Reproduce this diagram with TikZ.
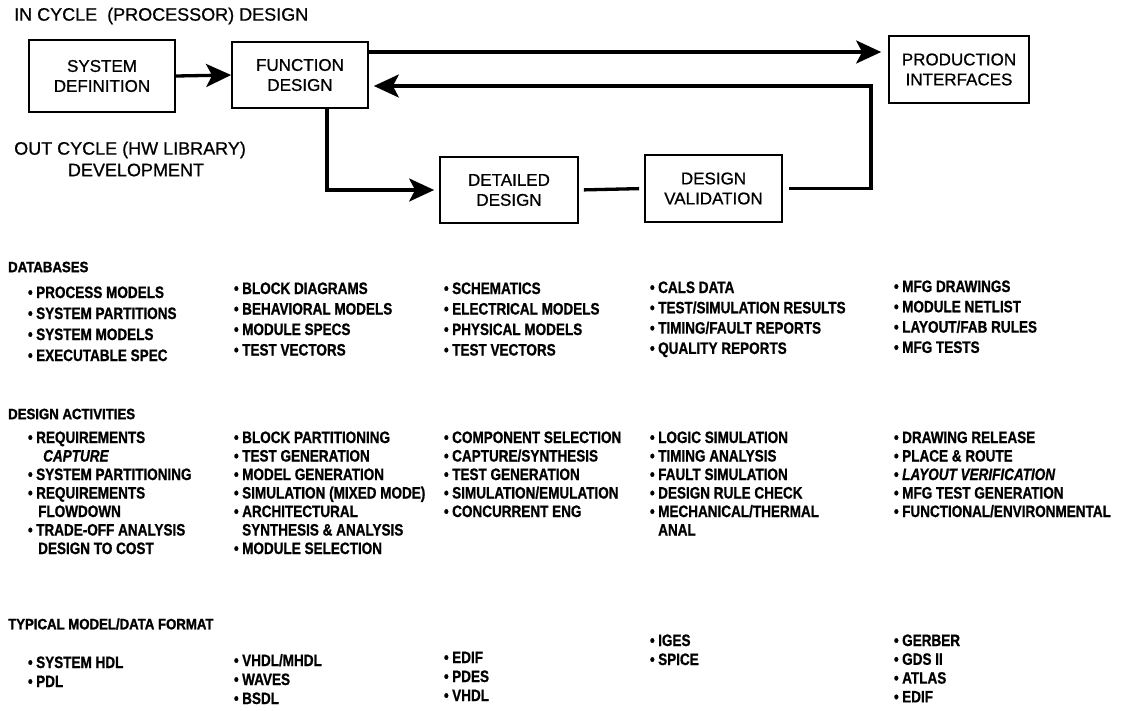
\documentclass[tikz,border=0pt]{standalone}
\usepackage{fontspec}
\setmainfont[FakeBold=0.7]{Liberation Sans}
\newfontfamily\condfont[FakeStretch=0.82,FakeBold=0.9]{Liberation Sans}
\newfontfamily\headfont[FakeStretch=0.88,FakeBold=1.4]{Liberation Sans}
\usetikzlibrary{arrows.meta}
\newcommand\bu{\llap{\textbullet\hspace{3.5pt}}}
\newcommand\itemcol[5]{%
  \foreach \t [count=\i] in {#5}
    \node[itm] (#1-\i) at (#2,{#3+(\i-1)*#4}) {\t};}
\tikzset{
  blk/.style={draw, line width=1.7pt, align=center, inner sep=0pt,
    font=\fontsize{17}{20}\selectfont},
  lbl/.style={inner sep=0pt, font=\fontsize{18}{21}\selectfont},
  hdr/.style={anchor=west, inner sep=0pt, font=\headfont\bfseries\fontsize{15}{17}\selectfont},
  itm/.style={anchor=base west, inner sep=0pt, font=\condfont\bfseries\fontsize{16.5}{19}\selectfont},
  flow/.style={line width=3.3pt, -{Stealth[length=25pt,width=23pt,inset=6pt]}},
  link/.style={line width=3.3pt}
}
\begin{document}
\begin{tikzpicture}[x=1pt,y=-1pt]
\useasboundingbox[fill=white] (0,0) rectangle (1124,710);

% top section
\node[lbl, anchor=west] (title) at (14,16) {IN CYCLE\ \ (PROCESSOR) DESIGN};
\node[blk, minimum width=146pt, minimum height=72pt] (sysdef) at (102,76) {SYSTEM\\DEFINITION};
\node[blk, minimum width=136pt, minimum height=66pt] (func) at (300,75) {FUNCTION\\DESIGN};
\node[blk, minimum width=140pt, minimum height=67pt] (prod) at (959,69.5) {PRODUCTION\\INTERFACES};
\node[lbl, anchor=west] (out) at (14,150) {OUT CYCLE (HW LIBRARY)};
\node[lbl] (dev) at (136,170) {DEVELOPMENT};
\node[blk, minimum width=138pt, minimum height=66pt] (det) at (509,190) {DETAILED\\DESIGN};
\node[blk, minimum width=137pt, minimum height=67pt] (val) at (713.5,188.5) {DESIGN\\VALIDATION};

\coordinate (d1) at (327,190);
\coordinate (r1) at (871,188.5);
\coordinate (r2) at (871,86);

\draw[flow] (sysdef.east) -- (func.west);
\draw[flow, shorten >=7pt] ([yshift=23pt]func.east) -- ([yshift=17.5pt]prod.west);
\draw[flow, shorten >=5pt] ([xshift=27pt]func.south) -- (d1) -- (det.west);
\draw[link, shorten <=5pt, shorten >=5pt] (det.east) -- (val.west);
\draw[flow, shorten <=6pt, shorten >=5pt] (val.east) -- (r1) -- (r2) -- ([yshift=-11pt]func.east);

% databases
\node[hdr] (dbh) at (8,267) {DATABASES};
\itemcol{dba}{36}{298}{21}{{\bu PROCESS MODELS},{\bu SYSTEM PARTITIONS},{\bu SYSTEM MODELS},{\bu EXECUTABLE SPEC}}
\itemcol{dbb}{242}{294}{20.5}{{\bu BLOCK DIAGRAMS},{\bu BEHAVIORAL MODELS},{\bu MODULE SPECS},{\bu TEST VECTORS}}
\itemcol{dbc}{452}{294}{20.5}{{\bu SCHEMATICS},{\bu ELECTRICAL MODELS},{\bu PHYSICAL MODELS},{\bu TEST VECTORS}}
\itemcol{dbd}{658}{293}{20.3}{{\bu CALS DATA},{\bu TEST/SIMULATION RESULTS},{\bu TIMING/FAULT REPORTS},{\bu QUALITY REPORTS}}
\itemcol{dbe}{902}{292}{20.3}{{\bu MFG DRAWINGS},{\bu MODULE NETLIST},{\bu LAYOUT/FAB RULES},{\bu MFG TESTS}}

% design activities
\node[hdr] (dah) at (8,414) {DESIGN ACTIVITIES};
\itemcol{daa}{36}{443}{18.5}{{\bu REQUIREMENTS},{\hspace{7pt}\itshape CAPTURE},{\bu SYSTEM PARTITIONING},{\bu REQUIREMENTS},{\hspace{2pt}FLOWDOWN},{\bu TRADE-OFF ANALYSIS},{\hspace{2pt}DESIGN TO COST}}
\itemcol{dab}{242}{443}{18.5}{{\bu BLOCK PARTITIONING},{\bu TEST GENERATION},{\bu MODEL GENERATION},{\bu SIMULATION (MIXED MODE)},{\bu ARCHITECTURAL},{SYNTHESIS \& ANALYSIS},{\bu MODULE SELECTION}}
\itemcol{dac}{452}{443}{18.5}{{\bu COMPONENT SELECTION},{\bu CAPTURE/SYNTHESIS},{\bu TEST GENERATION},{\bu SIMULATION/EMULATION},{\bu CONCURRENT ENG}}
\itemcol{dad}{658}{443}{18.5}{{\bu LOGIC SIMULATION},{\bu TIMING ANALYSIS},{\bu FAULT SIMULATION},{\bu DESIGN RULE CHECK},{\bu MECHANICAL/THERMAL},{ANAL}}
\itemcol{dae}{902}{443}{18.5}{{\bu DRAWING RELEASE},{\bu PLACE \& ROUTE},{\bu \itshape LAYOUT VERIFICATION},{\bu MFG TEST GENERATION},{\bu FUNCTIONAL/ENVIRONMENTAL}}

% typical model/data format
\node[hdr] (tmh) at (8,624) {TYPICAL MODEL/DATA FORMAT};
\itemcol{tma}{36}{668}{19}{{\bu SYSTEM HDL},{\bu PDL}}
\itemcol{tmb}{242}{666}{19}{{\bu VHDL/MHDL},{\bu WAVES},{\bu BSDL}}
\itemcol{tmc}{452}{663}{19}{{\bu EDIF},{\bu PDES},{\bu VHDL}}
\itemcol{tmd}{658}{646}{19}{{\bu IGES},{\bu SPICE}}
\itemcol{tme}{902}{646}{18.8}{{\bu GERBER},{\bu GDS II},{\bu ATLAS},{\bu EDIF}}
\end{tikzpicture}
\end{document}
